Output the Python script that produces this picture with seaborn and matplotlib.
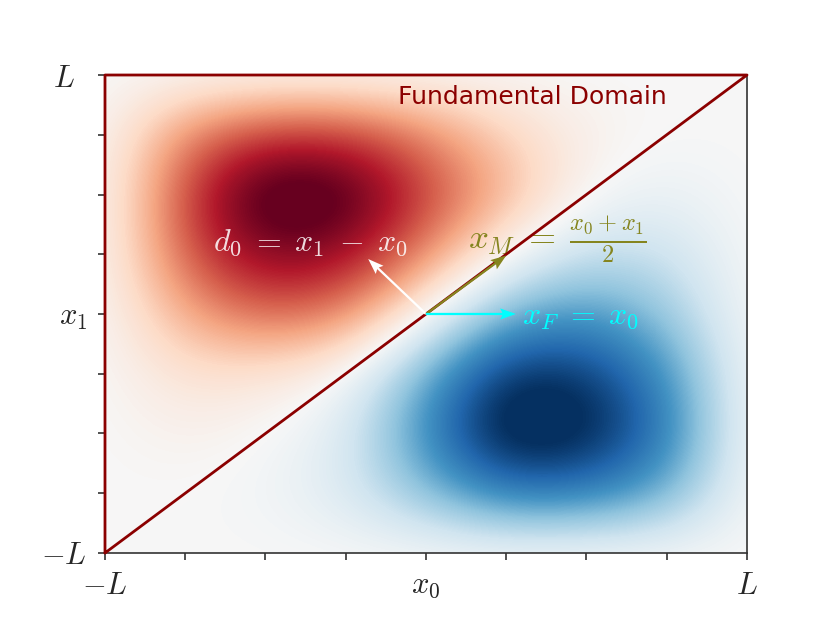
import numpy as np
import matplotlib
matplotlib.use("Agg")
import matplotlib.pyplot as plt
import matplotlib.transforms as mtransforms
import seaborn as sns

# grid positions (both axes), in units of L
grid_pos = [-1.0, -0.75, -0.5, -0.25, 0.0, 0.25, 0.5, 0.75, 1.0]

# field values, rows from x1 = L (top) down to x1 = -L
row_p100 = [0, 0, 0, 0, 0, 0, 0, 0, 0]
row_p075 = [0, 0.50, 0.72, 0.72, 0.50, 0.22, 0.05, 0, 0]
row_p050 = [0, 0.68, 1.18, 1.12, 0.70, 0.35, 0, -0.08, 0]
row_p025 = [0, 0.62, 0.95, 0.88, 0.48, 0, -0.25, -0.22, 0]
row_000 = [0, 0.38, 0.60, 0.50, 0, -0.48, -0.60, -0.38, 0]
row_m025 = [0, 0.15, 0.12, 0, -0.50, -1.02, -0.98, -0.62, 0]
row_m050 = [0, 0.05, 0, -0.12, -0.65, -1.18, -1.10, -0.72, 0]
row_m075 = [0, 0, -0.03, -0.14, -0.42, -0.72, -0.70, -0.50, 0]
row_m100 = [0, 0, 0, 0, 0, 0, 0, 0, 0]

# fundamental domain outline
tri_x = [-1, -1, 1, -1]
tri_y = [-1, 1, 1, -1]

# arrows from the point (x0, x1)
arr_x = [0, 0, 0]
arr_y = [0, 0, 0]
arr_u = [-0.18, 0.25, 0.28]
arr_v = [0.23, 0.245, 0.0]
arr_col = ['white', '#85851f', '#00ffff']

xlabels = ['$-L$', '', '', '', '$x_0$', '', '', '', '$L$']
ylabels = ['$-L$', '', '', '', '$x_1$', '', '', '', '$L$']

sns.set_style("ticks")
plt.rcParams['mathtext.fontset'] = 'cm'
plt.rcParams['font.family'] = ['DejaVu Sans']

field = np.array([row_p100, row_p075, row_p050, row_p025, row_000,
                  row_m025, row_m050, row_m075, row_m100])

fig = plt.figure(figsize=(8.3, 6.23), dpi=100)
ax = fig.add_axes([0.1265, 0.1124, 0.7735, 0.7672])

h = 0.125
ax.imshow(field, cmap='RdBu_r', vmin=-1, vmax=1, interpolation='bicubic',
          interpolation_stage='data', origin='upper', aspect='auto',
          extent=[-1 - h, 1 + h, -1 - h, 1 + h])

sns.lineplot(x=tri_x, y=tri_y, sort=False, estimator=None, color='#8b0000',
             lw=2, ax=ax, clip_on=False, zorder=5)

ax.quiver(arr_x, arr_y, arr_u, arr_v, color=arr_col, angles='xy',
          scale_units='xy', scale=1, width=0.0035, headwidth=5,
          headlength=7, headaxislength=6, zorder=6)

ax.text(-0.665, 0.30, r'$d_0 \;=\; x_1 \;-\; x_0$', color='white', alpha=0.85,
        fontsize=23, va='center')
ax.text(0.13, 0.31, r'$x_M \;=\; \frac{x_0+x_1}{2}$', color='#85851f',
        fontsize=25, va='center')
ax.text(0.30, -0.005, r'$x_F \;=\; x_0$', color='#00ffff', fontsize=23,
        va='center')
ax.text(0.33, 0.91, 'Fundamental Domain', color='#8b0000', fontsize=18,
        ha='center', va='center')

ax.set_xlim(-1, 1)
ax.set_ylim(-1, 1)
ax.set_xticks(grid_pos)
ax.set_xticklabels(xlabels)
ax.set_yticks(grid_pos)
ax.set_yticklabels(ylabels)
ax.tick_params(length=5, width=1.2, color='#333333', labelsize=22, pad=8)
# nudge the top "L" a little further left, like in the original
top_lab = ax.get_yticklabels()[-1]
top_lab.set_transform(top_lab.get_transform() +
                      mtransforms.ScaledTranslation(-0.12, 0, fig.dpi_scale_trans))
for s in ax.spines.values():
    s.set_color('#333333')
    s.set_linewidth(1.2)

fig.savefig('out.png', dpi=100)
